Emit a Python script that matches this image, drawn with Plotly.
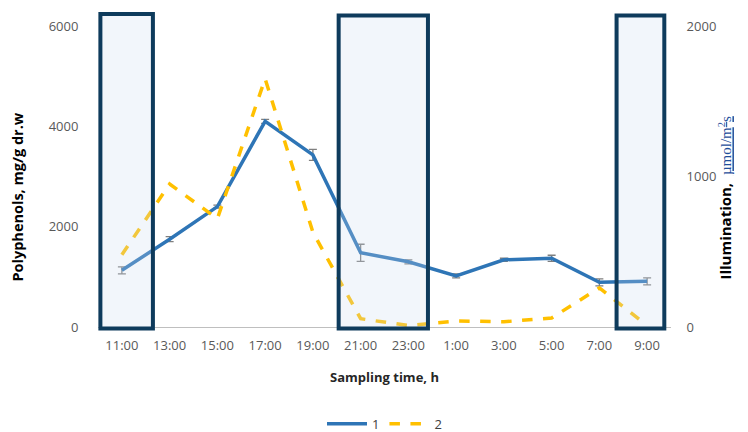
import plotly.graph_objects as go

times = ["11:00", "13:00", "15:00", "17:00", "19:00", "21:00", "23:00",
         "1:00", "3:00", "5:00", "7:00", "9:00"]
polyphenols = [1130, 1750, 2400, 4100, 3430, 1480, 1300, 1020, 1340, 1370, 890, 910]
polyphenols_err = [70, 50, 30, 40, 110, 170, 40, 40, 30, 60, 70, 70]
illumination = [480, 950, 720, 1650, 630, 55, 10, 40, 35, 60, 260, 10]
y_left_ticks = [0, 2000, 4000, 6000]
y_right_ticks = [0, 1000, 2000]
# dark periods, as category-index spans
dark_periods = [(-0.45, 0.65, 1.04), (4.54, 6.41, 1.035), (10.36, 11.36, 1.035)]

fig = go.Figure()
fig.add_trace(go.Scatter(
    x=times, y=polyphenols, name="1", mode="lines",
    line=dict(color="#2E75B6", width=3.5),
    error_y=dict(type="data", array=polyphenols_err, color="#7f7f7f", thickness=1.3, width=4),
))
fig.add_trace(go.Scatter(
    x=times, y=illumination, name="2", mode="lines", yaxis="y2",
    line=dict(color="#FFC000", width=3.5, dash="dash"),
))

for x0, x1, top in dark_periods:
    fig.add_shape(type="rect", xref="x", yref="paper", x0=x0, x1=x1, y0=-0.005, y1=top,
                  line=dict(color="#0E3B5C", width=4), fillcolor="rgba(205,218,238,0.25)",
                  layer="above")

font_family = "Open Sans, Liberation Sans, Arial"
tick_font = dict(size=13, color="#595959")

fig.add_annotation(xref="paper", yref="paper", x=0, y=0.43, xshift=-80, xanchor="center",
                   yanchor="middle", textangle=-90, showarrow=False,
                   text="<b>Polyphenols, mg/g dr.w</b>", font=dict(size=14.5, color="#000000"))
fig.add_annotation(xref="paper", yref="paper", x=1, y=0.43, xshift=54, xanchor="center",
                   yanchor="middle", textangle=-90, showarrow=False,
                   text="<b>Illumination,</b>  <span style='font-family:Liberation Serif;color:#1F4E9A'><u>µmol/m<sup>2</sup>s</u></span>",
                   font=dict(size=15, color="#000000"))

fig.update_layout(
    width=740, height=424,
    margin=dict(l=90, r=77, t=18, b=105, autoexpand=False),
    paper_bgcolor="white", plot_bgcolor="white",
    font=dict(family=font_family, size=12, color="#595959"),
    showlegend=True,
    legend=dict(orientation="h", x=0.5, xanchor="center", y=-0.322, yanchor="middle",
                font=dict(size=13, color="#404040"), itemwidth=40),
    xaxis=dict(
        type="category", categoryorder="array", categoryarray=times,
        range=[-0.5, 11.5], automargin=False,
        showgrid=False, showline=True, linecolor="#BFBFBF", linewidth=1,
        ticks="outside", ticklen=6, tickcolor="rgba(0,0,0,0)", tickfont=tick_font,
        title=dict(text="<b>Sampling time, h</b>", font=dict(size=13, color="#262626"), standoff=20),
    ),
    yaxis=dict(
        range=[0, 6000], tickvals=y_left_ticks, showgrid=False, zeroline=False, automargin=False,
        showline=False, ticks="outside", ticklen=16, tickcolor="rgba(0,0,0,0)", tickfont=tick_font,
    ),
    yaxis2=dict(
        overlaying="y", side="right", range=[0, 2000], tickvals=y_right_ticks, automargin=False,
        showgrid=False, zeroline=False, showline=False,
        ticks="outside", ticklen=12, tickcolor="rgba(0,0,0,0)", tickfont=tick_font,
    ),
)

fig.write_html("out.html")
